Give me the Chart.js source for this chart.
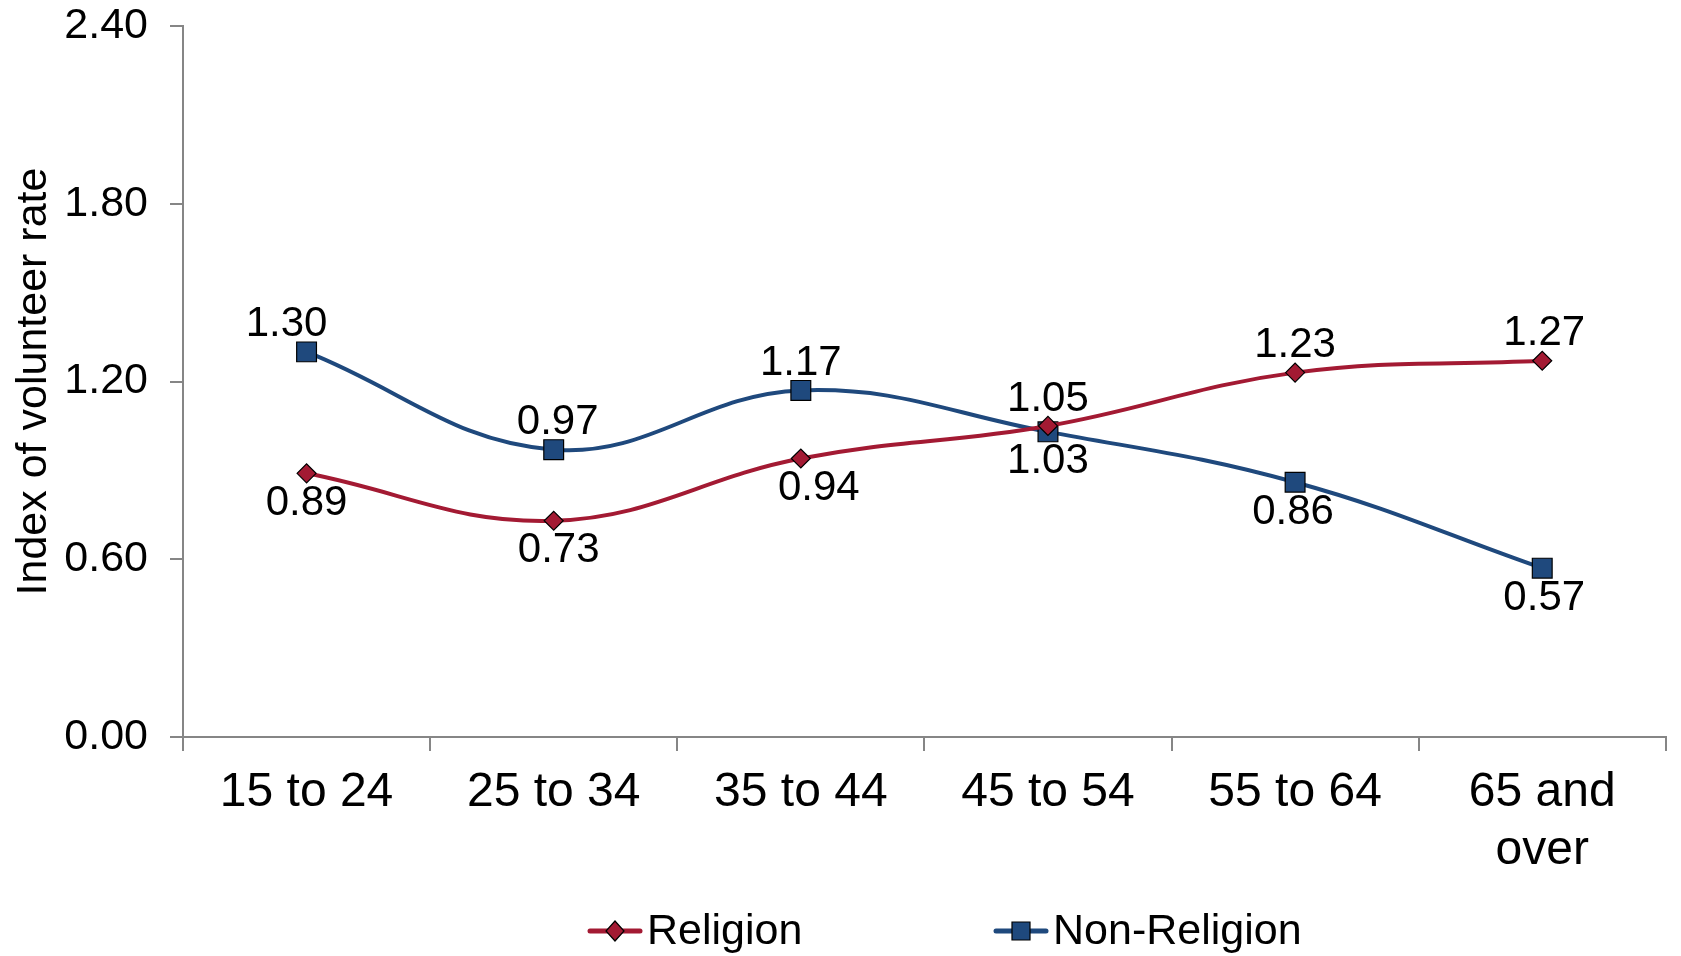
<!DOCTYPE html>
<html>
<head>
<meta charset="utf-8">
<script src="https://cdn.jsdelivr.net/npm/chart.js@4"></script>
<style>
    html, body { margin: 0; padding: 0; background: #fff; overflow: hidden; }
    #wrap { width: 1681px; height: 956px; }
</style>
</head>
<body>
<div id="wrap"><canvas id="chart"></canvas></div>
<script>
const ageGroups = ["15 to 24", "25 to 34", "35 to 44", "45 to 54", "55 to 64", ["65 and", "over"]];
const religion = [0.89, 0.73, 0.94, 1.05, 1.23, 1.27];
const nonReligion = [1.30, 0.97, 1.17, 1.03, 0.86, 0.57];
const yTicks = [0, 0.6, 1.2, 1.8, 2.4];

// where each value label sits relative to its point
const religionLabelPos = ["below", "below", "below", "above", "above", "above"];
const nonReligionLabelPos = ["above", "above", "above", "below", "below", "below"];

const RED = "#A31A33";
const BLUE = "#1F497D";
const FONT = "'Liberation Sans', Arial, sans-serif";

function drawMarker(ctx, shape, x, y, color) {
    ctx.fillStyle = color;
    ctx.strokeStyle = "#000";
    ctx.lineWidth = 1.2;
    ctx.beginPath();
    if (shape === "diamond") {
        ctx.moveTo(x, y - 10);
        ctx.lineTo(x + 9, y);
        ctx.lineTo(x, y + 10);
        ctx.lineTo(x - 9, y);
        ctx.closePath();
    } else {
        ctx.rect(x - 9, y - 9, 18, 18);
    }
    ctx.fill();
    ctx.stroke();
}

// Excel-style legend: line + marker, then the series name
const bottomLegend = {
    id: "bottomLegend",
    afterDraw(chart) {
        const ctx = chart.ctx;
        const y = 931;
        const items = [
            { x: 587, ds: chart.data.datasets[0], shape: "diamond" },
            { x: 993, ds: chart.data.datasets[1], shape: "square" },
        ];
        ctx.save();
        items.forEach((it) => {
            ctx.strokeStyle = it.ds.borderColor;
            ctx.lineWidth = 5;
            ctx.lineCap = "round";
            ctx.beginPath();
            ctx.moveTo(it.x + 3, y);
            ctx.lineTo(it.x + 53, y);
            ctx.stroke();
            drawMarker(ctx, it.shape, it.x + 28, y, it.ds.borderColor);
            ctx.fillStyle = "#000";
            ctx.font = "43px " + FONT;
            ctx.textAlign = "left";
            ctx.textBaseline = "middle";
            ctx.fillText(it.ds.label, it.x + 60, y + 1);
        });
        ctx.restore();
    }
};

const valueLabels = {
    id: "valueLabels",
    afterDatasetsDraw(chart) {
        const ctx = chart.ctx;
        ctx.save();
        ctx.font = "42px " + FONT;
        ctx.fillStyle = "#000";
        ctx.textAlign = "center";
        ctx.textBaseline = "middle";
        chart.data.datasets.forEach((ds, i) => {
            const meta = chart.getDatasetMeta(i);
            meta.data.forEach((pt, j) => {
                const dy = ds.labelPos[j] === "above" ? -27 : 30;
                ctx.fillText(ds.data[j].toFixed(2), pt.x + (ds.labelDx[j] || 0), pt.y + dy);
            });
        });
        ctx.restore();
    }
};

const chart = new Chart(document.getElementById("chart"), {
    type: "line",
    data: {
        labels: ageGroups,
        datasets: [
            {
                label: "Religion",
                data: religion,
                labelPos: religionLabelPos,
                labelDx: [0, 5, 18, 0, 0, 2],
                borderColor: RED,
                backgroundColor: RED,
                borderWidth: 4,
                tension: 0.4,
                pointStyle: "rectRot",
                pointRadius: 9.5,
                pointBorderColor: "#000",
                pointBorderWidth: 1.2,
                pointBackgroundColor: RED,
            },
            {
                label: "Non-Religion",
                data: nonReligion,
                labelPos: nonReligionLabelPos,
                labelDx: [-20, 4, 0, 0, -2, 2],
                borderColor: BLUE,
                backgroundColor: BLUE,
                borderWidth: 4,
                tension: 0.4,
                pointStyle: "rect",
                pointRadius: 14,
                pointBorderColor: "#000",
                pointBorderWidth: 1.2,
                pointBackgroundColor: BLUE,
            },
        ],
    },
    options: {
        responsive: true,
        maintainAspectRatio: false,
        animation: false,
        layout: { padding: { top: 26, right: 0, left: 0, bottom: 0 } },
        plugins: {
            tooltip: { enabled: false },
            legend: { display: false },
        },
        scales: {
            x: {
                offset: true,
                grid: {
                    offset: true,
                    drawOnChartArea: false,
                    drawTicks: true,
                    tickLength: 14,
                    color: "#868686",
                    lineWidth: 2,
                },
                border: { color: "#868686", width: 2 },
                ticks: {
                    color: "#000",
                    font: { family: FONT, size: 48 },
                    padding: 13,
                    maxRotation: 0,
                    autoSkip: false,
                },
                afterFit(scale) {
                    scale.height = 219;
                    scale.paddingRight = 0;
                },
            },
            y: {
                min: 0,
                max: 2.4,
                afterBuildTicks(scale) {
                    scale.ticks = yTicks.map((v) => ({ value: v }));
                },
                grid: {
                    drawOnChartArea: false,
                    drawTicks: true,
                    tickLength: 13,
                    color: "#868686",
                    lineWidth: 2,
                },
                border: { color: "#868686", width: 2 },
                ticks: {
                    color: "#000",
                    font: { family: FONT, size: 43 },
                    padding: 22,
                    callback: (v) => Number(v).toFixed(2),
                },
                title: {
                    display: true,
                    text: "Index of volunteer rate",
                    color: "#000",
                    font: { family: FONT, size: 43 },
                    padding: { top: 8, bottom: 0 },
                },
                afterFit(scale) {
                    scale.width = 183;
                    scale.paddingTop = 0;
                    scale.paddingBottom = 0;
                },
            },
        },
    },
    plugins: [valueLabels, bottomLegend],
});
</script>
</body>
</html>
